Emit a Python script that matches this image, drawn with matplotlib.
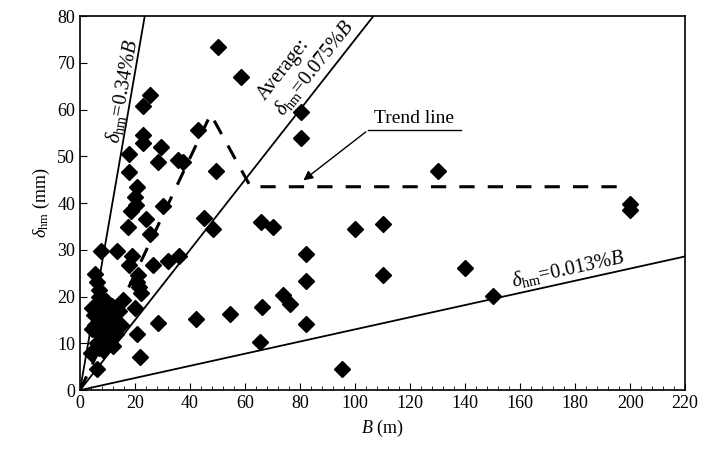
import matplotlib
matplotlib.use("Agg")
import matplotlib.pyplot as plt
from matplotlib.ticker import MultipleLocator

plt.rcParams['font.family'] = ['Liberation Serif', 'DejaVu Serif']
plt.rcParams['mathtext.fontset'] = 'custom'
plt.rcParams['mathtext.rm'] = 'Liberation Serif'
plt.rcParams['mathtext.it'] = 'Liberation Serif:italic'

# Data: B (m) and delta_hm (mm)
B_vals = [50, 58.5, 25.5, 22.8, 22.9, 22.9, 29.6, 17.9, 28.4, 35.6, 37.6, 49.6, 42.8,
          17.9, 20.8, 19.9, 20.5, 18.7, 30.2, 23.9, 17.5, 25.4, 45.2, 48.4, 65.7, 70.2,
          80.2, 80.2, 130, 100, 110, 82.2, 82.2, 110, 140, 73.8, 76.2, 66.2, 82.2, 65.3,
          95.2, 54.5, 150, 200, 200, 7.5, 13.4, 18.8, 17.9, 26.4, 32.1, 36, 21, 20.7,
          21.3, 22.2, 5.5, 6.2, 6.8, 20, 28.3, 42, 20.7, 21.9, 6, 15.5,
          4.5, 5, 5.5, 6, 6.5, 7, 7.5, 8, 8, 9, 9.5, 10, 10, 11, 11.5, 12, 12.5, 13,
          14, 8.5, 6, 4.5, 15, 7, 4]
delta_vals = [73.4, 67, 63.1, 60.7, 54.5, 52.8, 52, 50.6, 48.8, 49.2, 48.7, 46.9, 55.6,
              46.7, 43.5, 41.3, 39.6, 38.3, 39.4, 36.7, 34.8, 33.5, 36.9, 34.4, 36, 34.9,
              59.4, 54, 46.9, 34.4, 35.6, 29.2, 23.3, 24.7, 26.2, 20.3, 18.5, 17.7, 14.1, 10.2,
              4.6, 16.2, 20.2, 39.9, 38.6, 29.8, 29.8, 28.7, 26.7, 26.7, 27.7, 28.7, 24.6, 23.2,
              22.1, 20.7, 24.8, 23.2, 21.4, 17.5, 14.4, 15.3, 12.0, 7.0, 4.6, 19.3,
              17.5, 16, 14, 12.5, 18.5, 20, 15.5, 11.5, 17, 14.5, 19, 10.5, 16.5, 13.5, 18,
              9.5, 15, 12, 17, 8.5, 10, 13, 14, 9, 8]

# Reference lines: delta = ratio% * B  (mm per m)
line_ratios = [0.34, 0.075, 0.013]
line_B = [0, 220]

# Trend line vertices
trend_B = [0, 47.5, 62, 197]
trend_d = [0, 59, 43.5, 43.5]

fig = plt.figure(figsize=(7.02, 4.59), dpi=100)
ax = fig.add_axes([0.114, 0.150, 0.862, 0.815])

for r in line_ratios:
    ax.plot(line_B, [r * 10 * b for b in line_B], color='black', lw=1.3, zorder=2)

ax.plot(trend_B, trend_d, color='black', lw=2.2, ls=(0, (5, 4.3)), zorder=2)

ax.plot(B_vals, delta_vals, ls='none', marker='D', color='black', markersize=8, zorder=3)

ax.set_xlim(0, 220)
ax.set_ylim(0, 80)
ax.xaxis.set_major_locator(MultipleLocator(20))
ax.xaxis.set_minor_locator(MultipleLocator(4))
ax.yaxis.set_major_locator(MultipleLocator(10))
ax.tick_params(direction='in', which='both', labelsize=13, top=False, right=False)
ax.tick_params(which='major', length=5)
ax.tick_params(which='minor', length=3)
for s in ax.spines.values():
    s.set_linewidth(1.2)

ax.set_xlabel(r'$B$ (m)', fontsize=13)
ax.set_ylabel(r'$\delta_{\rm hm}$ (mm)', fontsize=13)

ax.text(15.5, 64, r'$\delta_{\rm hm}$=0.34%$B$', rotation=80, ha='center', va='center', fontsize=14.5)
ax.text(74.0, 68.6, 'Average:', rotation=51.8, ha='center', va='center', fontsize=14.5)
ax.text(85.0, 68.8, r'$\delta_{\rm hm}$=0.075%$B$', rotation=51.8, ha='center', va='center', fontsize=14.5)
ax.text(177.5, 25.9, r'$\delta_{\rm hm}$=0.013%$B$', rotation=12.4, ha='center', va='center', fontsize=14.5)

ax.text(121.5, 56.3, 'Trend line', ha='center', va='bottom', fontsize=14)
ax.plot([104.7, 138.4], [55.6, 55.6], color='black', lw=1)
ax.annotate('', xy=(80.4, 44.5), xytext=(104.7, 55.6),
            arrowprops=dict(arrowstyle='-|>', color='black', lw=1, mutation_scale=14))

fig.savefig('out.png', dpi=100)
